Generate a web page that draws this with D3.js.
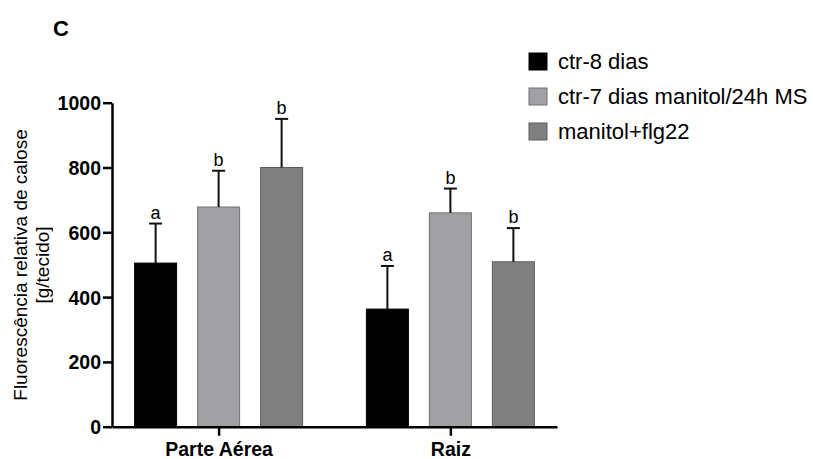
<!DOCTYPE html>
<html>
<head>
<meta charset="utf-8">
<script src="https://cdn.jsdelivr.net/npm/d3@7"></script>
<style>
  body { margin: 0; background: #fff; }
  svg { display: block; font-family: Arial, "Liberation Sans", sans-serif; }
</style>
</head>
<body>
<div id="chart"></div>
<script>
// Calose fluorescence chart

// data
const groups = ['Parte Aérea', 'Raiz']
const series = ['ctr-8 dias', 'ctr-7 dias manitol/24h MS', 'manitol+flg22']
const means = [
  [505, 678, 800],
  [363, 660, 509]
]
const errTops = [
  [627, 790, 950],
  [496, 735, 613]
]
const letters = [
  ['a', 'b', 'b'],
  ['a', 'b', 'b']
]
const yTicks = [0, 200, 400, 600, 800, 1000]

const colors = ['#000000', '#a1a1a5', '#808080']
const strokes = ['#000000', '#707070', '#5c5c5c']

var width = 813
var height = 459

var svg = d3.select('#chart')
  .append('svg')
  .attr('width', width)
  .attr('height', height)

// scales
const y = d3.scaleLinear()
  .domain([0, 1000])
  .range([426.7, 102.7])

const x0 = d3.scalePoint()
  .domain(groups)
  .range([112, 557])
  .padding(0.46)

const x1 = d3.scaleBand()
  .domain(series)
  .range([-116, 116])
  .paddingInner(1 / 3)
  .paddingOuter(0.508)

// flatten for drawing
let rows = []
groups.forEach((g, gi) => {
  series.forEach((s, si) => {
    rows.push({ g: g, s: s, si: si, v: means[gi][si], e: errTops[gi][si], l: letters[gi][si] })
  })
})

// bars
svg.selectAll('rect.bar')
  .data(rows)
  .enter()
  .append('rect')
  .attr('class', 'bar')
  .attr('x', d => x0(d.g) + x1(d.s))
  .attr('y', d => y(d.v))
  .attr('width', x1.bandwidth())
  .attr('height', d => y(0) - y(d.v))
  .attr('fill', d => colors[d.si])
  .attr('stroke', d => strokes[d.si])
  .attr('stroke-width', 1)

// error bars (upper only)
const cx = d => x0(d.g) + x1(d.s) + x1.bandwidth() / 2
svg.selectAll('line.err')
  .data(rows)
  .enter()
  .append('line')
  .attr('x1', cx)
  .attr('x2', cx)
  .attr('y1', d => y(d.v))
  .attr('y2', d => y(d.e))
  .attr('stroke', '#111')
  .attr('stroke-width', 2)

svg.selectAll('line.cap')
  .data(rows)
  .enter()
  .append('line')
  .attr('x1', d => cx(d) - 6.5)
  .attr('x2', d => cx(d) + 6.5)
  .attr('y1', d => y(d.e))
  .attr('y2', d => y(d.e))
  .attr('stroke', '#111')
  .attr('stroke-width', 2)

// significance letters
svg.selectAll('text.sig')
  .data(rows)
  .enter()
  .append('text')
  .attr('x', cx)
  .attr('y', d => y(d.e) - 5)
  .attr('text-anchor', 'middle')
  .attr('font-size', 18)
  .attr('fill', '#000')
  .text(d => d.l)

// axes
const yAxis = svg.append('g')
  .attr('transform', 'translate(112,0)')
  .call(d3.axisLeft(y).tickValues(yTicks).tickFormat(d3.format('d')).tickSize(9).tickSizeOuter(0).tickPadding(2))
yAxis.selectAll('text')
  .attr('font-size', 19.5)
  .attr('font-weight', 'bold')
  .attr('fill', '#000')
  .attr('dy', '0.36em')

const xAxis = svg.append('g')
  .attr('transform', 'translate(0,' + y(0) + ')')
  .call(d3.axisBottom(x0).tickSize(9).tickSizeOuter(0).tickPadding(6))
xAxis.selectAll('text')
  .attr('font-size', 19.5)
  .attr('font-weight', 'bold')
  .attr('fill', '#000')

svg.selectAll('.domain, .tick line')
  .attr('stroke', '#000')
  .attr('stroke-width', 2.5)

// y title
const yTitle = svg.append('text')
  .attr('transform', 'translate(27,265) rotate(-90)')
  .attr('text-anchor', 'middle')
  .attr('font-size', 19)
  .attr('fill', '#000')
  .attr('opacity', 0.99)
yTitle.append('tspan').attr('x', 0).attr('y', 0).text('Fluorescência relativa de calose')
yTitle.append('tspan').attr('x', 0).attr('y', 22).text('[g/tecido]')

// panel label
svg.append('text')
  .attr('x', 53)
  .attr('y', 36)
  .attr('font-size', 22)
  .attr('font-weight', 'bold')
  .attr('fill', '#000')
  .text('C')

// legend
const legend = svg.selectAll('g.legend')
  .data(series)
  .enter()
  .append('g')
  .attr('transform', (d, i) => 'translate(529,' + (53 + i * 35) + ')')

legend.append('rect')
  .attr('width', 18)
  .attr('height', 17)
  .attr('fill', (d, i) => colors[i])
  .attr('stroke', (d, i) => strokes[i])
  .attr('stroke-width', 1)

legend.append('text')
  .attr('x', 29)
  .attr('y', 16)
  .attr('font-size', 22)
  .attr('fill', '#000')
  .text(d => d)
</script>
</body>
</html>
